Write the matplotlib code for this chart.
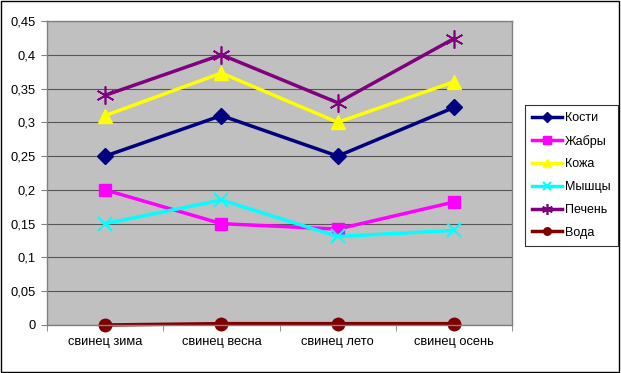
import matplotlib
matplotlib.use("Agg")
import matplotlib.pyplot as plt
from matplotlib.patches import Rectangle

categories = ["свинец зима", "свинец весна", "свинец лето", "свинец осень"]
kosti = [0.25, 0.31, 0.25, 0.322]
zhabry = [0.2, 0.15, 0.142, 0.182]
kozha = [0.31, 0.373, 0.30, 0.36]
myshcy = [0.15, 0.185, 0.131, 0.14]
pechen = [0.34, 0.40, 0.329, 0.424]
voda = [0.0, 0.002, 0.002, 0.002]
yticks = [0, 0.05, 0.1, 0.15, 0.2, 0.25, 0.3, 0.35, 0.4, 0.45]
ytick_labels = ["0", "0,05", "0,1", "0,15", "0,2", "0,25", "0,3", "0,35", "0,4", "0,45"]

plt.rcParams['font.family'] = ['Liberation Sans', 'DejaVu Sans']

fig = plt.figure(figsize=(6.21, 3.73), dpi=100)
fig.patches.append(Rectangle((0.002, 0.003), 0.995, 0.994, transform=fig.transFigure,
                             fill=False, edgecolor='black', linewidth=1))
ax = fig.add_axes([0.0757, 0.1287, 0.749, 0.815])
ax.set_facecolor('#C0C0C0')

x = list(range(len(categories)))
series = [
    ("Кости", kosti, '#000080', 'D', 8, None),
    ("Жабры", zhabry, '#FF00FF', 's', 9, None),
    ("Кожа", kozha, '#FFFF00', '^', 10, None),
    ("Мышцы", myshcy, '#00FFFF', 'x', 10, 1.5),
    ("Печень", pechen, '#800080', (6, 2, 0), 13, 1.2),
    ("Вода", voda, '#800000', 'o', 9, None),
]
for name, vals, col, mk, ms, mew in series:
    kw = {}
    if mew is not None:
        kw['markeredgewidth'] = mew
    ax.plot(x, vals, color=col, linewidth=2.5, marker=mk, markersize=ms,
            markerfacecolor=col, markeredgecolor=col, label=name, clip_on=False, **kw)

ax.set_xlim(-0.5, 3.5)
ax.set_ylim(0, 0.45)
ax.set_yticks(yticks)
ax.set_yticklabels(ytick_labels)
ax.set_xticks(x)
ax.set_xticklabels(categories)
ax.set_xticks([-0.5, 0.5, 1.5, 2.5, 3.5], minor=True)
ax.tick_params(axis='x', which='major', length=0, pad=8, labelsize=9.3)
ax.tick_params(axis='x', which='minor', length=4, direction='out', color='#808080')
ax.tick_params(axis='y', length=4, direction='out', color='#808080', labelsize=9.3, pad=4)
ax.grid(axis='y', color='#555555', linewidth=0.8)
ax.set_axisbelow(True)
for s in ax.spines.values():
    s.set_color('#808080')
    s.set_linewidth(1)

leg = fig.legend(loc='upper left', bbox_to_anchor=(0.845, 0.718), frameon=True,
                 fancybox=False, edgecolor='black', fontsize=9, handlelength=2.4,
                 labelspacing=0.86, borderpad=0.55, handletextpad=0.3, borderaxespad=0,
                 markerscale=0.6)
leg.get_frame().set_linewidth(0.8)

fig.savefig("out.png", dpi=100)
